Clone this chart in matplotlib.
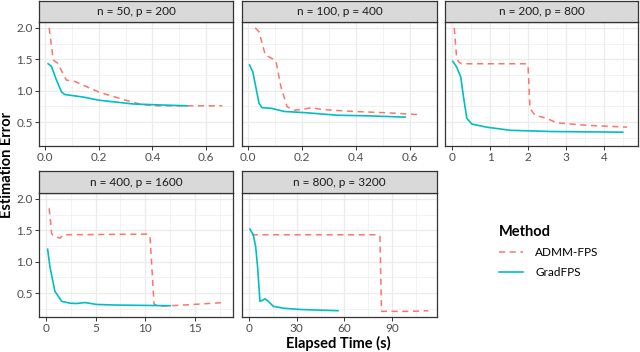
import numpy as np
import matplotlib
matplotlib.use("Agg")
import matplotlib.pyplot as plt
from matplotlib.lines import Line2D

plt.rcParams["font.family"] = ["Lato", "DejaVu Sans"]

titles = ["n = 50, p = 200", "n = 100, p = 400", "n = 200, p = 800",
          "n = 400, p = 1600", "n = 800, p = 3200"]
methods = ["ADMM-FPS", "GradFPS"]

# ADMM-FPS curves (time, error)
admm_t1 = [0.016, 0.031, 0.047, 0.08, 0.11, 0.2, 0.3, 0.36, 0.42, 0.5, 0.6, 0.66]
admm_e1 = [2.0, 1.49, 1.44, 1.17, 1.15, 0.98, 0.85, 0.78, 0.76, 0.76, 0.76, 0.76]
admm_t2 = [0.028, 0.042, 0.065, 0.1, 0.105, 0.123, 0.146, 0.17, 0.2, 0.235, 0.276, 0.392, 0.51, 0.63]
admm_e2 = [2.0, 1.94, 1.57, 1.49, 1.46, 1.06, 0.745, 0.69, 0.70, 0.73, 0.70, 0.67, 0.65, 0.62]
admm_t3 = [0.06, 0.12, 0.17, 0.25, 1.96, 2.0, 2.05, 2.18, 2.49, 2.75, 3.54, 4.6]
admm_e3 = [2.0, 1.54, 1.46, 1.43, 1.43, 1.38, 0.72, 0.61, 0.56, 0.49, 0.45, 0.42]
admm_t4 = [0.33, 0.57, 0.7, 1.41, 1.74, 10.14, 10.47, 10.88, 11.3, 13.8, 17.9]
admm_e4 = [1.85, 1.45, 1.42, 1.375, 1.43, 1.44, 1.41, 0.33, 0.29, 0.31, 0.35]
admm_t5 = [1.7, 81.4, 82.4, 83.4, 101.7, 112.8]
admm_e5 = [1.43, 1.43, 1.4, 0.21, 0.21, 0.22]

# GradFPS curves (time, error)
grad_t1 = [0.012, 0.024, 0.043, 0.062, 0.074, 0.142, 0.2, 0.327, 0.42, 0.53]
grad_e1 = [1.43, 1.39, 1.17, 0.98, 0.94, 0.9, 0.85, 0.79, 0.775, 0.76]
grad_t2 = [0.007, 0.019, 0.042, 0.053, 0.088, 0.135, 0.216, 0.332, 0.448, 0.582]
grad_e2 = [1.41, 1.30, 0.80, 0.73, 0.72, 0.67, 0.65, 0.61, 0.60, 0.58]
grad_t3 = [0.02, 0.12, 0.23, 0.3, 0.39, 0.52, 0.91, 1.53, 2.67, 4.49]
grad_e3 = [1.47, 1.38, 1.22, 0.91, 0.56, 0.47, 0.42, 0.37, 0.35, 0.34]
grad_t4 = [0.17, 0.4, 0.9, 1.58, 2.42, 3.09, 3.93, 5.1, 7.1, 12.5]
grad_e4 = [1.2, 0.92, 0.53, 0.37, 0.34, 0.335, 0.35, 0.32, 0.31, 0.30]
grad_t5 = [0.6, 2.7, 4.2, 5.4, 6.9, 8.0, 10.1, 12.1, 15.3, 21.6, 32, 56]
grad_e5 = [1.52, 1.43, 1.24, 0.92, 0.37, 0.38, 0.41, 0.37, 0.29, 0.26, 0.24, 0.22]

admm = [(admm_t1, admm_e1), (admm_t2, admm_e2), (admm_t3, admm_e3),
        (admm_t4, admm_e4), (admm_t5, admm_e5)]
grad = [(grad_t1, grad_e1), (grad_t2, grad_e2), (grad_t3, grad_e3),
        (grad_t4, grad_e4), (grad_t5, grad_e5)]

xticks = [[0.0, 0.2, 0.4, 0.6], [0.0, 0.2, 0.4, 0.6], [0, 1, 2, 3, 4],
          [0, 5, 10, 15], [0, 30, 60, 90]]
xticklabels = [["0.0", "0.2", "0.4", "0.6"], ["0.0", "0.2", "0.4", "0.6"],
               ["0", "1", "2", "3", "4"], ["0", "5", "10", "15"],
               ["0", "30", "60", "90"]]
xlims = [(-0.022, 0.696), (-0.021, 0.659), (-0.184, 4.89), (-0.70, 18.83), (-4.4, 118.3)]
yticks = [0.5, 1.0, 1.5, 2.0]
ylim = (0.12, 2.095)

red = "#F8766D"
teal = "#00BFC4"
border = "#333333"
W, H = 640, 352
small = 8.5

fig = plt.figure(figsize=(6.4, 3.52), dpi=100)

cols = [(39, 233), (242, 437), (445, 638)]
rows = [(1, 22, 146), (171, 193, 317)]  # strip top, plot top, plot bottom


def fr(x0, x1, y0, y1):
    return [x0 / W, 1 - y1 / H, (x1 - x0) / W, (y1 - y0) / H]


for i in range(5):
    r, c = divmod(i, 3)
    x0, x1 = cols[c]
    st, pt, pb = rows[r]
    ax = fig.add_axes(fr(x0, x1, pt, pb))
    ax.set_xlim(xlims[i])
    ax.set_ylim(ylim)
    ax.set_xticks(xticks[i])
    ax.set_xticklabels(xticklabels[i])
    mx = [(a + b) / 2 for a, b in zip(xticks[i][:-1], xticks[i][1:])]
    mx = mx + [xticks[i][-1] + (xticks[i][1] - xticks[i][0]) / 2]
    ax.set_xticks(mx, minor=True)
    ax.set_yticks(yticks)
    ax.set_yticks([0.25, 0.75, 1.25, 1.75], minor=True)
    ax.grid(True, which="major", color="#EBEBEB", lw=0.9)
    ax.grid(True, which="minor", color="#EBEBEB", lw=0.45)
    ax.set_axisbelow(True)
    ax.tick_params(which="minor", length=0)
    ax.tick_params(which="major", length=3, width=0.7, color=border,
                   labelsize=small, labelcolor="#4D4D4D", pad=1.5)
    if c == 0:
        ax.set_yticklabels(["0.5", "1.0", "1.5", "2.0"])
    else:
        ax.tick_params(axis="y", length=0, labelleft=False)
    for s in ax.spines.values():
        s.set_color(border)
        s.set_linewidth(0.9)
    ax.plot(admm[i][0], admm[i][1], color=red, lw=1.1, dashes=(4, 3))
    ax.plot(grad[i][0], grad[i][1], color=teal, lw=1.2)

    sax = fig.add_axes(fr(x0, x1, st, pt))
    sax.set_facecolor("#D9D9D9")
    sax.set_xticks([])
    sax.set_yticks([])
    for s in sax.spines.values():
        s.set_color(border)
        s.set_linewidth(0.9)
    sax.text(0.5, 0.5, titles[i], ha="center", va="center",
             fontsize=small, color="#1A1A1A", transform=sax.transAxes)

fig.text(338.5 / W, 1 - 343 / H, "Elapsed Time (s)", ha="center", va="center",
         fontsize=10.5, fontweight="bold")
fig.text(7 / W, 1 - 165 / H, "Estimation Error", ha="center", va="center",
         rotation=90, fontsize=10.5, fontweight="bold")

handles = [Line2D([], [], color=red, lw=1.1, dashes=(4, 3)),
           Line2D([], [], color=teal, lw=1.2)]
leg = fig.legend(handles, methods, title="Method", loc="upper left",
                 bbox_to_anchor=(488 / W, 1 - 214 / H), frameon=False,
                 fontsize=small, title_fontproperties={"weight": "bold", "size": 10.5},
                 handlelength=2.1, handletextpad=1.0, labelspacing=0.75,
                 alignment="left")

fig.savefig("out.png", dpi=100)
